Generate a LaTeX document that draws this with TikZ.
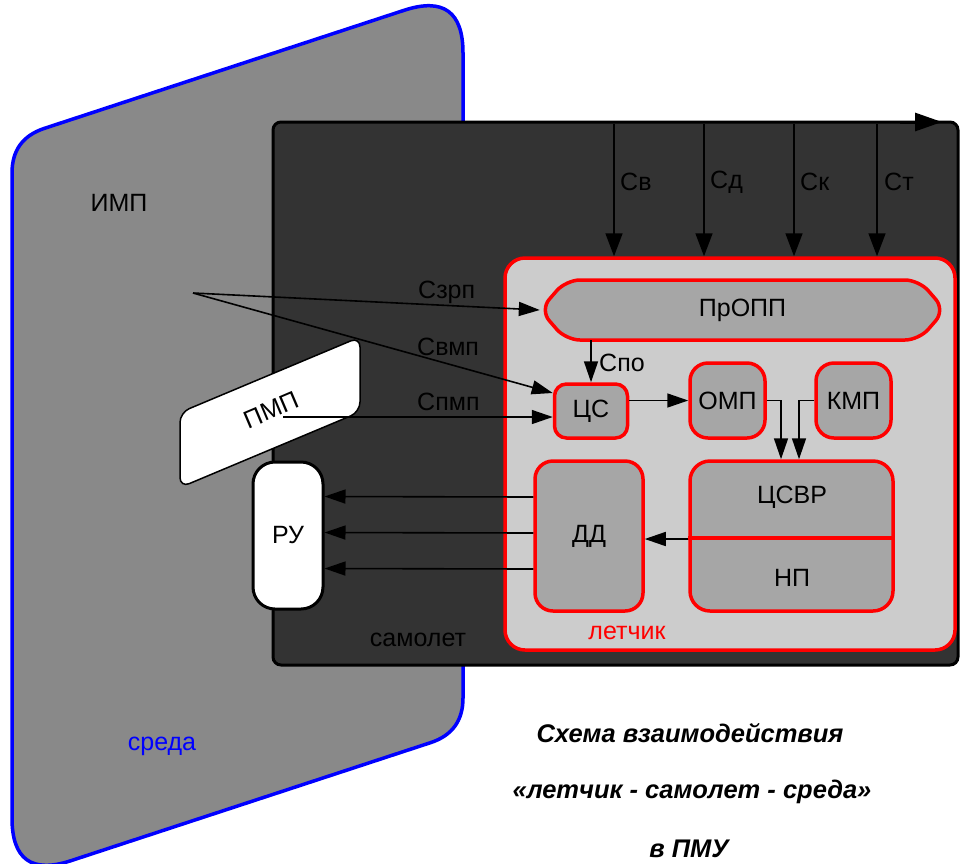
\documentclass[tikz,border=0pt]{standalone}
\usepackage{fontspec}
\setmainfont{Liberation Sans}
\usetikzlibrary{arrows.meta,calc}
\definecolor{envgray}{RGB}{137,137,137}
\definecolor{airgray}{RGB}{51,51,51}
\definecolor{letgray}{RGB}{204,204,204}
\definecolor{boxgray}{RGB}{166,166,166}
\begin{document}
\begin{tikzpicture}[x=1pt,y=-1pt,
  lbl/.style={inner sep=0pt, font=\fontsize{25}{30}\selectfont},
  box/.style={draw=red, line width=3.5pt, fill=boxgray, rounded corners=18pt, inner sep=0pt, font=\fontsize{25}{30}\selectfont},
  arr/.style={-{Triangle[length=21pt,width=14pt]}, line width=1.6pt},
  bigarr/.style={-{Triangle[length=23pt,width=17pt]}, line width=1.6pt},
  ttl/.style={inner sep=0pt, font=\fontsize{25.5}{30}\selectfont\bfseries\itshape}]
\useasboundingbox (0,0) rectangle (960,863);

% environment
\draw[draw=blue, line width=3.5pt, fill=envgray] (12,818) -- (12,173)
  .. controls (12,150.3) and (22.8,135.5) .. (44.3,128.4) -- (404.1,10.3)
  .. controls (443.4,-2.6) and (463,11.7) .. (463,53) -- (463,698)
  .. controls (463,720.7) and (452.2,735.5) .. (430.7,742.6) -- (70.9,860.7)
  .. controls (31.6,873.6) and (12,859.3) .. (12,818) -- cycle;
\node[lbl] (imp) at (119,203) {ИМП};
\node[lbl, text=blue] (sreda) at (162,746) {среда};

% aircraft
\node[draw=black, line width=3pt, fill=airgray, rounded corners=8pt, minimum width=685pt, minimum height=543pt, inner sep=0pt] (air) at (615.5,393.5) {};
\node[lbl] (samolet) at (418,640) {самолет};
\coordinate (tA) at (900,122);
\coordinate (tB) at (942,122);
\draw[-{Triangle[length=27pt,width=18pt]}, line width=3pt] (tA) -- (tB);

% pilot
\node[draw=red, line width=3.5pt, fill=letgray, rounded corners=20pt, minimum width=450pt, minimum height=392pt, inner sep=0pt] (let) at (730,454) {};
\node[lbl, text=red] (letchik) at (627,633) {летчик};

\draw[draw=red, line width=3.5pt, fill=boxgray, rounded corners=14pt] (566,280) -- (919,280) -- (945,310) -- (919,340) -- (566,340) -- (540,310) -- cycle;
\node[lbl, minimum width=405pt, minimum height=60pt] (propp) at (742.5,310) {ПрОПП};

\node[box, minimum width=73pt, minimum height=54pt, rounded corners=12pt] (cs) at (591,411) {ЦС};
\node[box, minimum width=75pt, minimum height=75pt] (omp) at (727.5,400.5) {ОМП};
\node[box, minimum width=75pt, minimum height=75pt] (kmp) at (853.5,400.5) {КМП};
\node[box, minimum width=108pt, minimum height=150pt] (dd) at (589,536) {ДД};
\node[box, minimum width=203pt, minimum height=150pt, rounded corners=20pt] (csvr) at (791.5,536) {};
\draw[red, line width=3.5pt] ([yshift=-2pt]csvr.west) -- ([yshift=-2pt]csvr.east);
\node[lbl] (tcsvr) at (792,497) {ЦСВР};
\node[lbl] (tnp) at (792,578) {НП};

% PMP and RU
\draw[fill=white, draw=black, line width=1.5pt, rounded corners=10pt] (180,412.5) -- (360,337) -- (360,412) -- (180,487.5) -- cycle;
\node[lbl, rotate=23] (pmp) at (271,410) {ПМП};
\node[draw=black, line width=3pt, fill=white, rounded corners=22pt, minimum width=70pt, minimum height=147pt, inner sep=0pt, font=\fontsize{25}{30}\selectfont] (ru) at (288,535.5) {РУ};

% connectors
\coordinate (src) at (193,293);
\draw[arr] (src) -- (propp.west);
\draw[arr] (src) -- ([yshift=18pt]cs.west);
\coordinate (pmpA) at (283,417);
\draw[arr] (pmpA) -- (cs.west |- pmpA);
\node[lbl, anchor=west] (lszrp) at (418,292) {Сзрп};
\node[lbl, anchor=west] (lsvmp) at (417,347) {Свмп};
\node[lbl, anchor=west] (lspmp) at (417,402) {Спмп};

\draw[arr] (propp.south -| cs.north) -- (cs.north);
\node[lbl, anchor=west] (lspo) at (599,363) {Спо};
\draw[arr] (cs.east |- omp.west) -- (omp.west);
\draw[arr] (omp.east) -| ([xshift=-10.5pt]csvr.north);
\draw[arr] (kmp.west) -| ([xshift=7.5pt]csvr.north);
\draw[arr] ([yshift=-3pt]csvr.west) -- ([yshift=-3pt]dd.east);
\foreach \s in {39,3,-33}
  \draw[arr] ([yshift=\s pt]dd.west) -- ([yshift=\s pt]ru.east);

\coordinate (sv) at (614,124);
\coordinate (sd) at (704,124);
\coordinate (sk) at (794,124);
\coordinate (st) at (877,124);
\draw[bigarr] (sv) -- (sv |- let.north);
\draw[bigarr] (sd) -- (sd |- let.north);
\draw[bigarr] (sk) -- (sk |- let.north);
\draw[bigarr] (st) -- (st |- let.north);
\node[lbl, anchor=west] (lsv) at (620,182) {Св};
\node[lbl, anchor=west] (lsd) at (710,182) {Сд};
\node[lbl, anchor=west] (lsk) at (800,182) {Ск};
\node[lbl, anchor=west] (lst) at (884,182) {Ст};

% title
\node[ttl] (t1) at (690,733) {Схема взаимодействия};
\node[ttl] (t2) at (692,792) {«летчик - самолет - среда»};
\node[ttl] (t3) at (689,849) {в ПМУ};
\end{tikzpicture}
\end{document}
